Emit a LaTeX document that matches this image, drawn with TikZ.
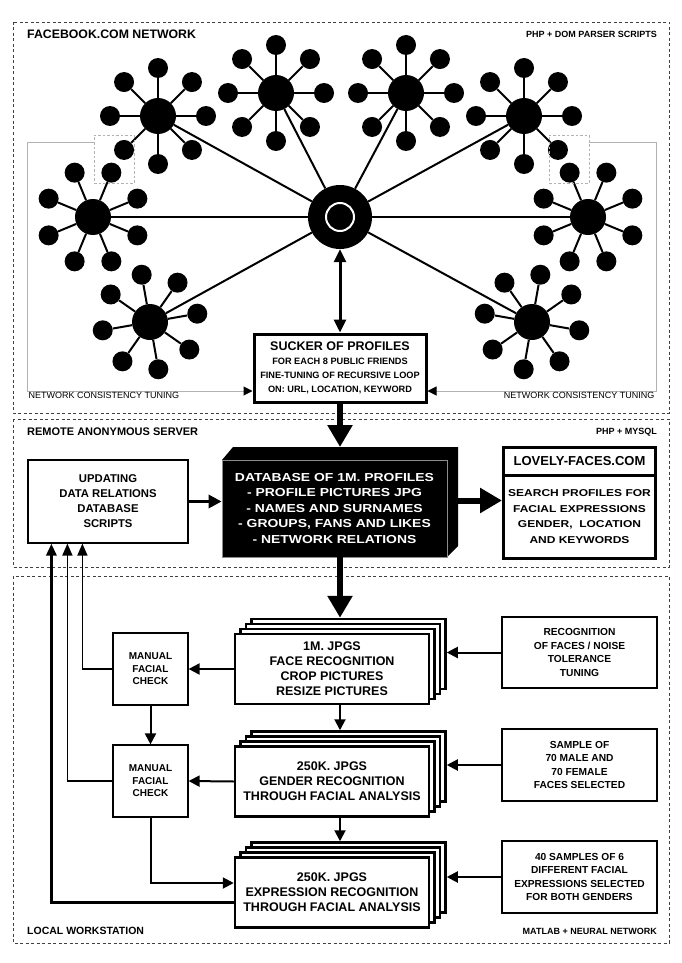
\documentclass[tikz,border=0pt]{standalone}
\usepackage{fontspec}
\setmainfont{Liberation Sans}
\newfontfamily\widefont{Liberation Sans}[FakeStretch=1.2]
\usetikzlibrary{arrows.meta,calc,positioning}

\tikzset{
    sectionframe/.style={draw=black!75, line width=0.8pt, dash pattern=on 3pt off 2.5pt},
    sectionhead/.style={inner sep=0pt, font=\bfseries\fontsize{12.3}{14}\selectfont},
    sidelabel/.style={inner sep=0pt, font=\bfseries\fontsize{9}{11}\selectfont},
    tunelabel/.style={inner sep=1.5pt, font=\fontsize{9}{11}\selectfont},
    hub/.style={circle, fill=black, inner sep=0pt, minimum size=36pt},
    leaf/.style={circle, fill=black, inner sep=0pt, minimum size=20pt},
    netline/.style={line width=2pt},
    dashbox/.style={draw=gray!60, line width=0.8pt, dash pattern=on 2.5pt off 2pt, minimum width=40pt, minimum height=48pt},
    grayline/.style={draw=gray!60, line width=1pt, -{Triangle[length=9pt, width=9pt, color=black]}},
    thickbox/.style={draw, line width=3pt, fill=white, align=center},
    thinbox/.style={draw, line width=1.2pt, fill=white, align=center},
    stacklayer/.style={draw, line width=2.5pt, fill=white, minimum width=194pt, minimum height=70pt},
    stackbox/.style={stacklayer, align=center, font=\bfseries\fontsize{12.5}{15}\selectfont},
    arr/.style={line width=2pt, -{Triangle[length=11pt, width=11pt]}},
    dblarr/.style={line width=3pt, {Triangle[length=13pt, width=12pt]}-{Triangle[length=13pt, width=12pt]}},
    bigarr/.style={line width=6pt, -{Triangle[length=22pt, width=24pt]}},
    fbarr/.style={line width=1.6pt, -{Triangle[length=12pt, width=10pt]}}
}

\begin{document}
\begin{tikzpicture}[x=1pt, y=-1pt]
    \useasboundingbox (0,0) rectangle (681,963);

    % three working areas
    \draw[sectionframe] (13,22) rectangle (669,413);
    \draw[sectionframe] (13,419) rectangle (669,567);
    \draw[sectionframe] (13,576) rectangle (669,943);

    \node[sectionhead, anchor=west] (fbhead) at (27,34) {FACEBOOK.COM NETWORK};
    \node[sidelabel, anchor=east] (fbtool) at (657,34) {PHP + DOM PARSER SCRIPTS};
    \node[sectionhead, anchor=west, font=\bfseries\fontsize{11}{13}\selectfont] (srvhead) at (27,432) {REMOTE ANONYMOUS SERVER};
    \node[sidelabel, anchor=east] (srvtool) at (657,432) {PHP + MYSQL};
    \node[sectionhead, anchor=west, font=\bfseries\fontsize{10.5}{12}\selectfont] (lochead) at (27,931) {LOCAL WORKSTATION};
    \node[sidelabel, anchor=east] (loctool) at (657,931) {MATLAB + NEURAL NETWORK};

    % facebook network
    \node[circle, fill=black, inner sep=0pt, minimum size=64pt] (center) at (340,217) {};
    \node[circle, draw=white, line width=2pt, inner sep=0pt, minimum size=28pt] (centerring) at (340,217) {};

    \foreach \h/\x/\y/\r in {h1/158/116/0, h2/276/93/0, h3/406/93/0, h4/524/116/0,
                            h5/93/217/22.5, h6/588/217/22.5, h7/150/322/35, h8/532/322/10} {
        \node[hub] (\h) at (\x,\y) {};
        \draw[netline] (center) -- (\h);
        \foreach \a [count=\i] in {0,45,...,315} {
            \node[leaf] (\h-\i) at ($(\h)+({\a+\r}:48)$) {};
            \draw[netline] (\h) -- (\h-\i);
        }
    }

    \node[dashbox] (dashL) at (114,159) {};
    \node[dashbox] (dashR) at (569,159) {};

    \node[thickbox, minimum width=172pt, minimum height=68pt, font=\bfseries\fontsize{9.2}{14}\selectfont] (sucker) at (340,368)
        {{\fontsize{12.5}{14}\selectfont SUCKER OF PROFILES}\\FOR EACH 8 PUBLIC FRIENDS\\FINE-TUNING OF RECURSIVE LOOP\\ON: URL, LOCATION, KEYWORD};

    \draw[dblarr] (center.south) -- (sucker.north);

    \coordinate (tuneL) at (27,391);
    \coordinate (tuneR) at (656,391);
    \draw[grayline] ([yshift=-8pt]dashL.north west) -| (tuneL) -- (tuneL -| sucker.west);
    \draw[grayline] ([yshift=-8pt]dashR.north east) -| (tuneR) -- (tuneR -| sucker.east);
    \node[tunelabel, anchor=north west] (tuneLtext) at (tuneL) {NETWORK CONSISTENCY TUNING};
    \node[tunelabel, anchor=north east] (tuneRtext) at (tuneR) {NETWORK CONSISTENCY TUNING};

    % remote server
    \fill (222,460) -- (233,447) -- (458,447) -- (458,546) -- (447,557) -- (222,557) -- cycle;
    \node[fill=black, draw=black!45, line width=0.8pt, text=white, minimum width=225pt, minimum height=97pt, align=center,
          font=\widefont\bfseries\fontsize{11.6}{15.5}\selectfont] (dbase) at (334.5,508.5)
        {DATABASE OF 1M. PROFILES\\- PROFILE PICTURES JPG\\- NAMES AND SURNAMES\\- GROUPS, FANS AND LIKES\\- NETWORK RELATIONS};
    \coordinate (dbtop) at (340,447);

    \node[thinbox, minimum width=160pt, minimum height=83pt, font=\bfseries\fontsize{11.3}{15}\selectfont] (update) at (108,501.5)
        {UPDATING\\DATA RELATIONS\\DATABASE\\SCRIPTS};

    \node[thickbox, minimum width=152pt, minimum height=28pt, font=\bfseries\fontsize{13}{15}\selectfont] (lovelyhead) at (579.5,461)
        {LOVELY-FACES.COM};
    \node[thickbox, minimum width=152pt, minimum height=83pt, font=\widefont\bfseries\fontsize{10}{15.5}\selectfont] (lovelybody) at (579.5,516.5)
        {SEARCH PROFILES FOR\\FACIAL EXPRESSIONS\\GENDER,\ \ LOCATION\\AND KEYWORDS};

    \draw[bigarr] (sucker.south) -- (sucker.south |- dbtop);
    \draw[line width=3.5pt, -{Triangle[length=13pt, width=13pt]}] (update.east) -- (update.east -| dbase.west);
    \draw[bigarr] ([xshift=11pt, yshift=8pt]dbase.east) -- ([yshift=8pt]dbase.east -| lovelybody.west);

    % local workstation
    \foreach \k in {3,2,1}
        \node[stacklayer] (jpg1-\k) at ({332+5.5*\k},{669-5*\k}) {};
    \node[stackbox] (jpg1) at (332,669) {1M. JPGS\\FACE RECOGNITION\\CROP PICTURES\\RESIZE PICTURES};

    \foreach \k in {3,2,1}
        \node[stacklayer] (jpg2-\k) at ({332+5.5*\k},{781.5-5*\k}) {};
    \node[stackbox] (jpg2) at (332,781.5) {250K. JPGS\\GENDER RECOGNITION\\THROUGH FACIAL ANALYSIS};

    \foreach \k in {3,2,1}
        \node[stacklayer] (jpg3-\k) at ({332+5.5*\k},{892.5-5*\k}) {};
    \node[stackbox] (jpg3) at (332,892.5) {250K. JPGS\\EXPRESSION RECOGNITION\\THROUGH FACIAL ANALYSIS};

    \node[thinbox, minimum width=75pt, minimum height=72pt, font=\bfseries\fontsize{10}{12.5}\selectfont] (check1) at (150.5,669)
        {MANUAL\\FACIAL\\CHECK};
    \node[thinbox, minimum width=75pt, minimum height=72pt, font=\bfseries\fontsize{10}{12.5}\selectfont] (check2) at (150.5,781)
        {MANUAL\\FACIAL\\CHECK};

    \node[thinbox, minimum width=155pt, minimum height=71pt, font=\bfseries\fontsize{10.2}{13.6}\selectfont] (tune1) at (579.5,652.5)
        {RECOGNITION\\OF FACES / NOISE\\TOLERANCE\\TUNING};
    \node[thinbox, minimum width=155pt, minimum height=72pt, font=\bfseries\fontsize{10.2}{13.6}\selectfont] (tune2) at (579.5,765)
        {SAMPLE OF\\70 MALE AND\\70 FEMALE\\FACES SELECTED};
    \node[thinbox, minimum width=155pt, minimum height=72pt, font=\bfseries\fontsize{10.2}{13.6}\selectfont] (tune3) at (579.5,877)
        {40 SAMPLES OF 6\\DIFFERENT FACIAL\\EXPRESSIONS SELECTED\\FOR BOTH GENDERS};

    \draw[bigarr] (dbase.south -| sucker.south) -- (jpg1-3.north -| sucker.south);
    \draw[arr] (jpg1.south -| sucker.south) -- (jpg2-3.north -| sucker.south);
    \draw[arr] (jpg2.south -| sucker.south) -- (jpg3-3.north -| sucker.south);

    \draw[arr] (tune1.west) -- (tune1.west -| jpg1-3.east);
    \draw[arr] (tune2.west) -- (tune2.west -| jpg2-3.east);
    \draw[arr] (tune3.west) -- (tune3.west -| jpg3-3.east);

    \draw[arr] (jpg1.west) -- (check1.east);
    \draw[arr] (jpg2.west) -- (check2.east);
    \draw[arr] (check1.south) -- (check2.north);
    \draw[arr] (check2.south) |- ([yshift=9.5pt]jpg3.west);

    \draw[fbarr] (check1.west) -| ([xshift=55pt]update.south west);
    \draw[fbarr] (check2.west) -| ([xshift=40pt]update.south west);
    \draw[fbarr, line width=3pt] ([yshift=-9.5pt]jpg3.west) -| ([xshift=24pt]update.south west);
\end{tikzpicture}
\end{document}
